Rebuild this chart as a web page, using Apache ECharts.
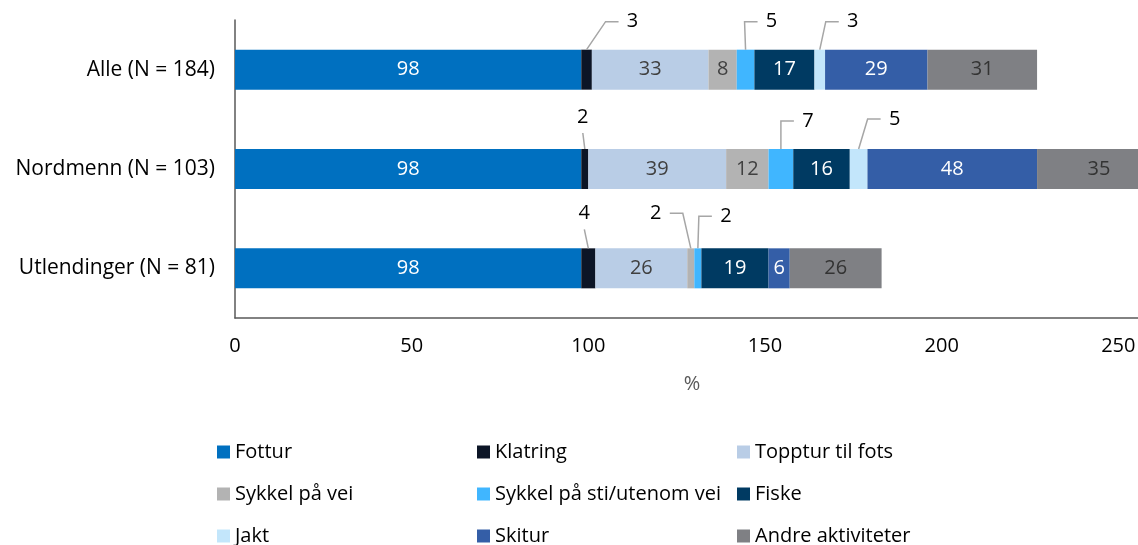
<!DOCTYPE html>
<html>
<head>
<meta charset="utf-8">
<script src="https://cdn.jsdelivr.net/npm/echarts@6/dist/echarts.min.js"></script>
<style>
  html, body { margin: 0; padding: 0; background: #fff; }
  #myChart { width: 1138px; height: 545px; }
</style>
</head>
<body>
<div id="myChart"></div>
<script>
  // kategorier og verdier (%)
  const categories = ['Alle (N = 184)', 'Nordmenn (N = 103)', 'Utlendinger (N = 81)']
  const fottur = [98, 98, 98]
  const klatring = [3, 2, 4]
  const topptur = [33, 39, 26]
  const sykkelVei = [8, 12, 2]
  const sykkelSti = [5, 7, 2]
  const fiske = [17, 16, 19]
  const jakt = [3, 5, 0]
  const skitur = [29, 48, 6]
  const andre = [31, 35, 26]
  const xTicks = [0, 50, 100, 150, 200, 250, 300]

  const seriesDefs = [
    {name: 'Fottur', values: fottur, color: '#0070C0', text: '#ffffff'},
    {name: 'Klatring', values: klatring, color: '#0C1526', text: '#ffffff'},
    {name: 'Topptur til fots', values: topptur, color: '#B9CDE6', text: '#404040'},
    {name: 'Sykkel på vei', values: sykkelVei, color: '#B3B3B3', text: '#404040'},
    {name: 'Sykkel på sti/utenom vei', values: sykkelSti, color: '#40B6FF', text: '#404040'},
    {name: 'Fiske', values: fiske, color: '#003A62', text: '#ffffff'},
    {name: 'Jakt', values: jakt, color: '#C3E6FB', text: '#404040'},
    {name: 'Skitur', values: skitur, color: '#345EA7', text: '#ffffff'},
    {name: 'Andre aktiviteter', values: andre, color: '#7F8084', text: '#333333'}
  ]

  // små verdier vises med etikett utenfor stolpen
  // [dx, dy] = etikettens midtpunkt i forhold til midten av stolpens overkant
  const callouts = {
    'Klatring': [[46, -28], [-2, -32], [-4, -35]],
    'Sykkel på vei': [null, null, [-35, -35]],
    'Sykkel på sti/utenom vei': [[26, -28], [27, -28], [28, -32]],
    'Jakt': [[33, -28], [36, -30], null]
  }

  const font = 'Open Sans'
  const barWidth = 40

  let chart = echarts.init(document.getElementById('myChart'))

  // stolpene
  const series = seriesDefs.map(function (s) {
    const co = callouts[s.name] || []
    return {
      name: s.name,
      type: 'bar',
      stack: 'total',
      barWidth: barWidth,
      clip: false,
      itemStyle: {color: s.color},
      label: {
        show: true,
        position: 'inside',
        color: s.text,
        fontFamily: font,
        fontSize: 20,
        formatter: function (p) {
          if (!p.value || co[p.dataIndex]) return ''
          return String(p.value)
        }
      },
      emphasis: {disabled: true},
      data: s.values
    }
  })

  // etiketter med hjelpelinjer for de små verdiene
  const calloutData = []
  seriesDefs.forEach(function (s, si) {
    const co = callouts[s.name]
    if (!co) return
    s.values.forEach(function (v, i) {
      if (!co[i]) return
      let start = 0
      for (let k = 0; k < si; k++) start += seriesDefs[k].values[i]
      calloutData.push([start + v / 2, i, co[i][0], co[i][1], v])
    })
  })

  series.push({
    type: 'custom',
    coordinateSystem: 'cartesian2d',
    encode: {x: 0, y: 1},
    silent: true,
    z: 5,
    renderItem: function (params, api) {
      const p = api.coord([api.value(0), api.value(1)])
      const dx = api.value(2)
      const dy = api.value(3)
      const x0 = p[0]
      const y0 = p[1] - barWidth / 2
      const lx = x0 + dx
      const ly = y0 + dy
      let points
      if (Math.abs(dx) < 15) {
        // etikett rett over stolpen
        points = [[x0, y0], [lx, ly + 16]]
      } else {
        const sgn = dx > 0 ? 1 : -1
        const end = lx - sgn * 14
        const elbow = end - sgn * 13
        points = [[x0, y0], [elbow, ly], [end, ly]]
      }
      return {
        type: 'group',
        children: [
          {
            type: 'polyline',
            shape: {points: points},
            style: {stroke: '#A6A6A6', lineWidth: 1.5, fill: null}
          },
          {
            type: 'text',
            x: lx,
            y: ly,
            style: {
              text: String(api.value(4)),
              align: 'center',
              verticalAlign: 'middle',
              fill: '#000000',
              font: '20px "' + font + '"'
            }
          }
        ]
      }
    },
    data: calloutData
  })

  chart.setOption({
    animation: false,
    // rutenettet går forbi høyre kant, slik at 300 havner utenfor bildet
    grid: {left: 235, width: 1060, top: 20, height: 298, outerBoundsMode: 'none', containLabel: false},
    legend: {
      data: seriesDefs.map(function (s) { return s.name }),
      left: 217,
      top: 431,
      width: 790,
      padding: 0,
      icon: 'rect',
      itemWidth: 13,
      itemHeight: 13,
      itemGap: 0,
      selectedMode: false,
      textStyle: {fontFamily: font, fontSize: 20, color: '#000000', width: 242, lineHeight: 42}
    },
    xAxis: {
      type: 'value',
      min: xTicks[0],
      max: xTicks[xTicks.length - 1],
      interval: 50,
      name: '%',
      nameLocation: 'middle',
      nameGap: 56,
      nameTextStyle: {fontFamily: font, fontSize: 20, color: '#595959', padding: [0, 146, 0, 0]},
      axisLine: {show: true, lineStyle: {color: '#595959', width: 1.5}},
      axisTick: {show: false},
      splitLine: {show: false},
      axisLabel: {fontFamily: font, fontSize: 20, color: '#000000', margin: 18}
    },
    yAxis: {
      type: 'category',
      inverse: true,
      data: categories,
      axisLine: {show: true, lineStyle: {color: '#595959', width: 1.5}},
      axisTick: {show: false},
      axisLabel: {fontFamily: font, fontSize: 21, color: '#000000', margin: 20}
    },
    series: series
  })
</script>
</body>
</html>
